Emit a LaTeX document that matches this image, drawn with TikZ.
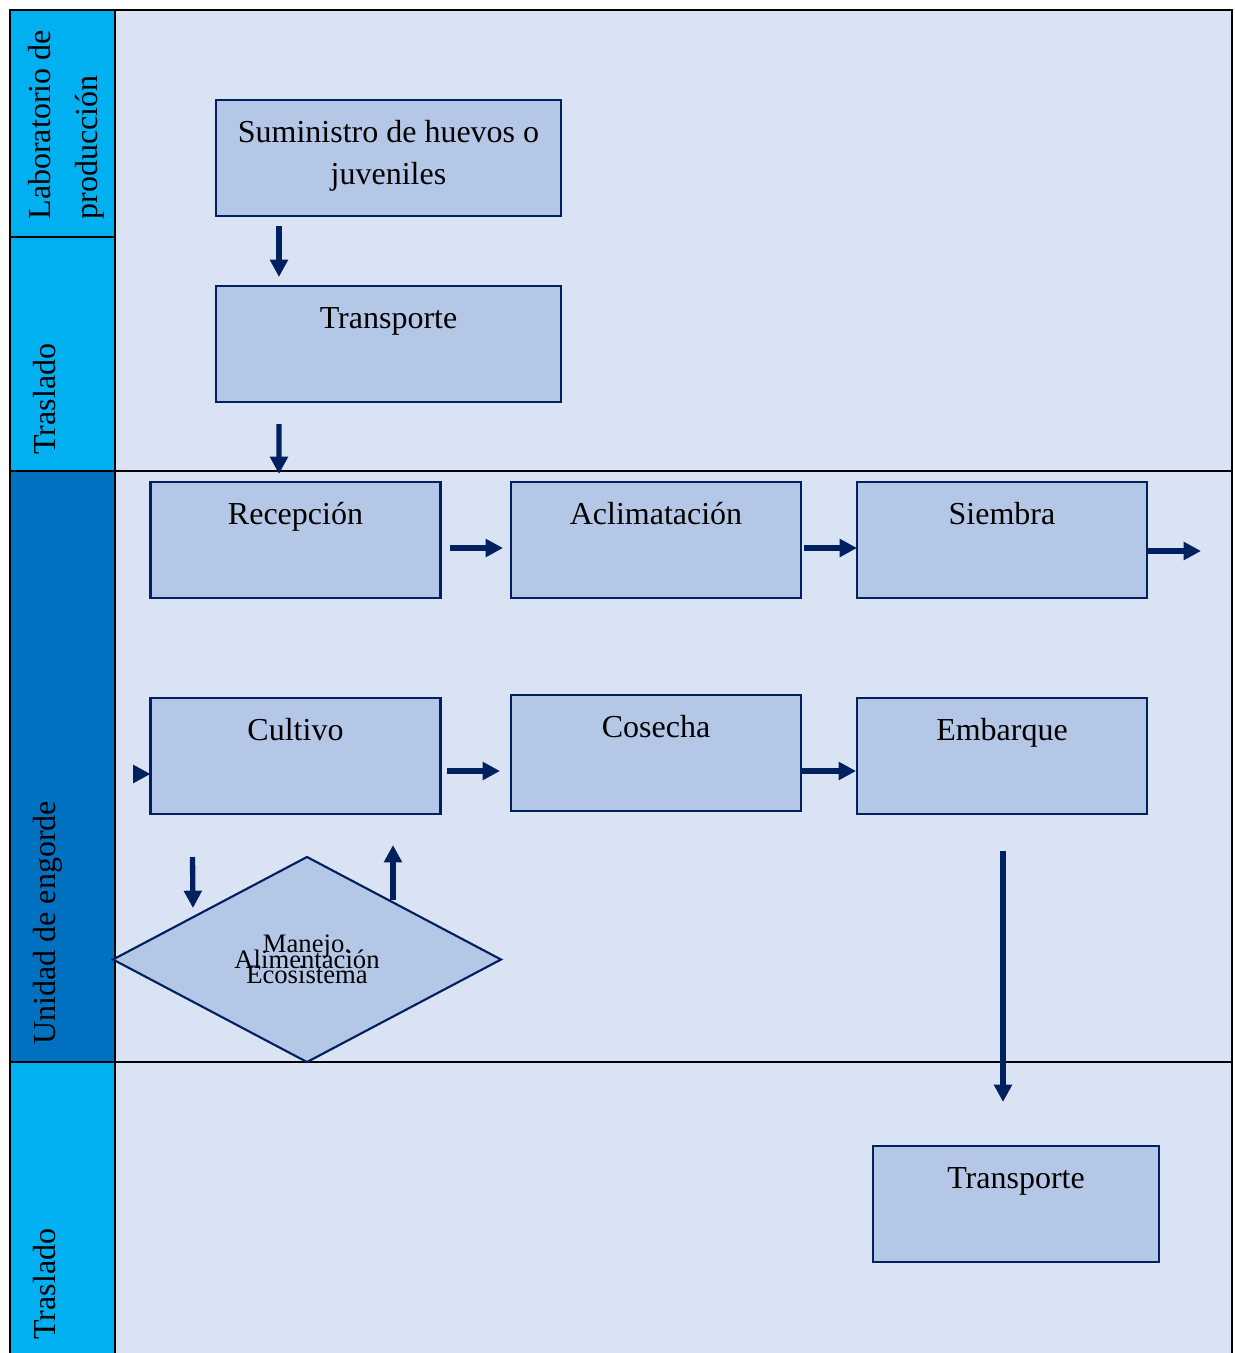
\documentclass[tikz,border=0pt]{standalone}
\usepackage{fontspec}
\setmainfont{Liberation Serif}
\usetikzlibrary{arrows.meta,shapes.geometric}

\definecolor{navy}{HTML}{002060}
\definecolor{lanebg}{HTML}{DAE3F3}
\definecolor{boxbg}{HTML}{B4C7E7}
\definecolor{lanecyan}{HTML}{00B0F0}
\definecolor{lanedark}{HTML}{0070C0}

\newcommand{\tightlines}{\fontsize{10}{5.8}\selectfont\lineskiplimit=-100pt\relax}

\tikzset{
  box/.style={draw=navy, line width=0.8pt, fill=boxbg, inner xsep=0pt, inner ysep=0pt, outer sep=0pt,
    minimum width=108.75pt, text height=15.75pt, text depth=27.75pt, font=\fontsize{12}{15.75}\selectfont},
  wide/.style={box, minimum width=129.4pt},
  arr/.style={draw=navy, line width=2pt, -{Triangle[length=6.5pt,width=6.5pt]}},
  lanetext/.style={rotate=90, inner sep=0pt, font=\fontsize{12}{17.6}\selectfont, align=left}
}

\begin{document}
\begin{tikzpicture}[x=0.375pt, y=-0.375pt]
    \useasboundingbox (0,0) rectangle (1235,1353);

    % Lanes
    \fill[lanebg] (115,10) rectangle (1232,1353);
    \fill[lanecyan] (10,10) rectangle (115,471);
    \fill[lanedark] (10,471) rectangle (115,1062);
    \fill[lanecyan] (10,1062) rectangle (115,1353);
    \draw[line width=0.9pt] (10,1353) -- (10,10) -- (1232,10) -- (1232,1353);
    \draw[line width=0.9pt] (115,10) -- (115,1353);
    \draw[line width=0.9pt] (10,237) -- (115,237);
    \draw[line width=0.9pt] (10,471) -- (1232,471);
    \draw[line width=0.9pt] (10,1062) -- (1232,1062);

    % Lane names
    \node[lanetext, anchor=south west] (lab) at (105,220) {Laboratorio de\\producción};
    \node[lanetext, anchor=base west] (tras1) at (55,455) {Traslado};
    \node[lanetext, anchor=base west] (eng) at (55,1045) {Unidad de engorde};
    \node[lanetext, anchor=base west] (tras2) at (55,1340) {Traslado};

    % Boxes
    \node[wide, align=center, text height=31.5pt, text depth=12pt] (sum) at (388.5,158)
        {Suministro de huevos o\\juveniles};
    \node[wide] (tra1) at (388.5,344) {Transporte};
    \node[box] (rec) at (295.5,540) {Recepción};
    \node[box] (acl) at (656,540) {Aclimatación};
    \node[box] (sie) at (1002,540) {Siembra};
    \node[box] (cul) at (295.5,756) {Cultivo};
    \node[box] (cos) at (656,753) {Cosecha};
    \node[box] (emb) at (1002,756) {Embarque};
    \node[box, minimum width=107.25pt] (tra2) at (1016,1204) {Transporte};
    \node[diamond, draw=navy, line width=0.8pt, fill=boxbg, inner sep=0pt, outer sep=0pt,
          minimum width=145.5pt, minimum height=76.9pt, align=center,
          font=\tightlines] (man) at (307,959.5)
          {Manejo.\\Alimentación\\Ecosistema};

    \coordinate (out) at (1201,551);
    \coordinate (in) at (134,774);

    % Arrows
    \draw[arr] ([shift={(63,10)}]sum.south west) -- ([shift={(63,-9)}]tra1.north west);
    \draw[arr] ([shift={(63,22)}]tra1.south west) -- ([shift={(128.5,-8)}]rec.north west);
    \draw[arr] ([shift={(9,8)}]rec.east) -- ([shift={(-8,8)}]acl.west);
    \draw[arr] ([shift={(3,8)}]acl.east) -- ([shift={(0,8)}]sie.west);
    \draw[arr] ([shift={(0,11)}]sie.east) -- (out);
    \draw[arr] (in) -- ([shift={(0,18)}]cul.west);
    \draw[arr] ([shift={(6,15)}]cul.east) -- ([shift={(-11,18)}]cos.west);
    \draw[arr] ([shift={(0,18)}]cos.east) -- ([shift={(-1,15)}]emb.west);
    \draw[arr] ([shift={(42,43)}]cul.south west) -- ([shift={(80,-51.5)}]man.west);
    \draw[arr] ([shift={(86,43)}]man.north) -- ([shift={(-47.5,31)}]cul.south east);
    \draw[arr] ([shift={(1,37)}]emb.south) -- ([shift={(-13,-44)}]tra2.north);
\end{tikzpicture}
\end{document}
